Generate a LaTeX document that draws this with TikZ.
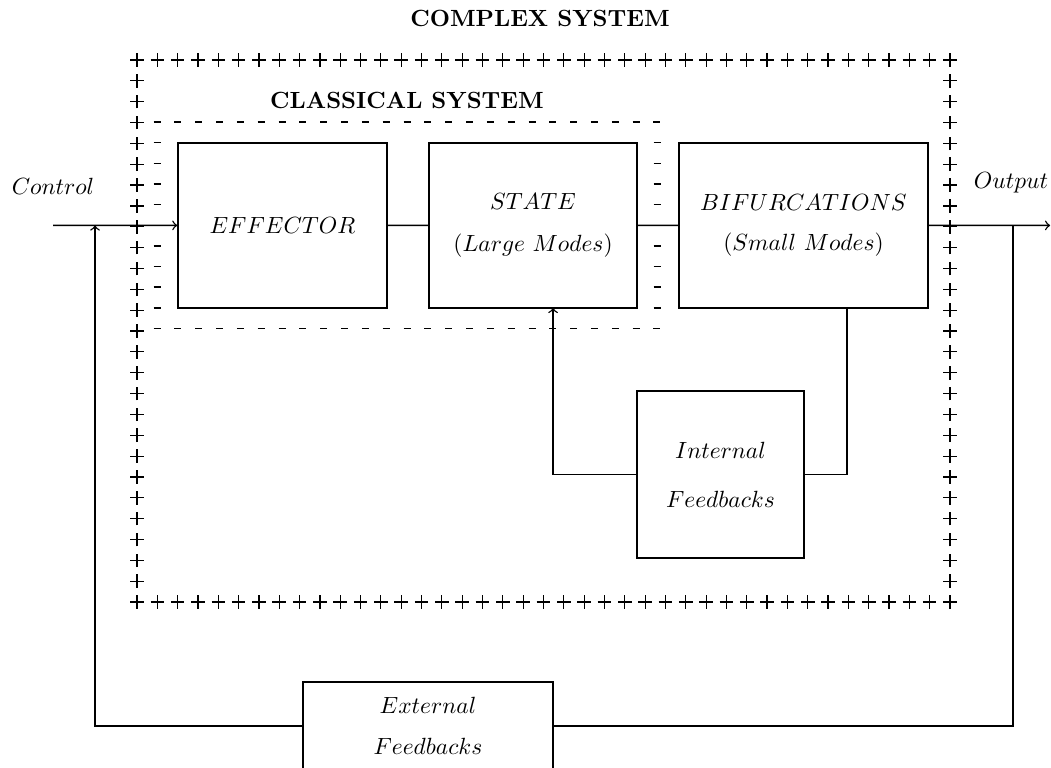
\documentclass[tikz,border=0pt]{standalone}
\usepackage{tikz}

\newcommand{\plusmark}[2]{\draw[line width=0.5pt] ({#1},{#2}) ++(-0.068,0) -- ++(0.136,0) ++(-0.068,-0.068) -- ++(0,0.136);}
\newcommand{\dashmark}[2]{\draw ({#1},{#2}) ++(-0.035,0) -- ++(0.07,0);}

\begin{document}
\begin{tikzpicture}[scale=1.5, line width=0.6pt, blk/.style={draw, align=center, inner sep=0pt}]
	\useasboundingbox (0,0) rectangle (10.51,7.67);
	
	\node (complex) at (5.40,7.49) {\textbf{COMPLEX SYSTEM}};
	\node (classical) at (4.07,6.67) {\textbf{CLASSICAL SYSTEM}};
	
	% complex system
	\foreach \i in {0,...,40} {
		\plusmark{1.37+0.20325*\i}{7.07}
		\plusmark{1.37+0.20325*\i}{1.65}
	}
	\foreach \j in {1,...,25} {
		\plusmark{1.37}{7.07-0.20846*\j}
		\plusmark{9.50}{7.07-0.20846*\j}
	}
	
	% classical system
	\foreach \i in {0,...,24} {
		\dashmark{1.57+0.20833*\i}{6.45}
		\dashmark{1.57+0.20833*\i}{4.385}
	}
	\foreach \j in {1,...,9} {
		\dashmark{1.57}{6.45-0.2065*\j}
		\dashmark{6.57}{6.45-0.2065*\j}
	}
	
	\node[blk, minimum width=3.135cm, minimum height=2.475cm] (eff) at (2.825,5.415) {$EFFECTOR$};
	\node[blk, minimum width=3.12cm, minimum height=2.475cm] (state) at (5.33,5.415) {$STATE$\\[6pt]$(Large\ Modes)$};
	\node[blk, minimum width=3.735cm, minimum height=2.475cm] (bif) at (8.035,5.415) {$BIFURCATIONS$\\[5pt]$(Small\ Modes)$};
	\node[blk, minimum width=2.505cm, minimum height=2.505cm] (intfb) at (7.205,2.925) {$Internal$\\[9pt]$Feedbacks$};
	\node[blk, minimum width=3.75cm, minimum height=1.32cm] (extfb) at (4.28,0.41) {$External$\\[5.5pt]$Feedbacks$};
	
	\node (control) at (0.53,5.81) {$Control$};
	\node (output) at (10.11,5.84) {$Output$};
	
	\coordinate (ctrl) at (0.53,5.415);
	\coordinate (out) at (10.50,5.415);
	\coordinate (tapL) at (0.95,5.415);
	\coordinate (tapR) at (10.13,5.415);
	\coordinate (bifdrop) at (8.47,4.59);
	\coordinate (stateup) at (5.53,4.59);
	
	\draw [->] (ctrl) -- (eff);
	\draw (eff) -- (state);
	\draw (state) -- (bif);
	\draw [->] (bif) -- (out);
	\draw (tapR) |- (extfb);
	\draw [->] (extfb) -| (tapL);
	\draw (bifdrop) |- (intfb);
	\draw [->] (intfb) -| (stateup);
	
\end{tikzpicture}
\end{document}
